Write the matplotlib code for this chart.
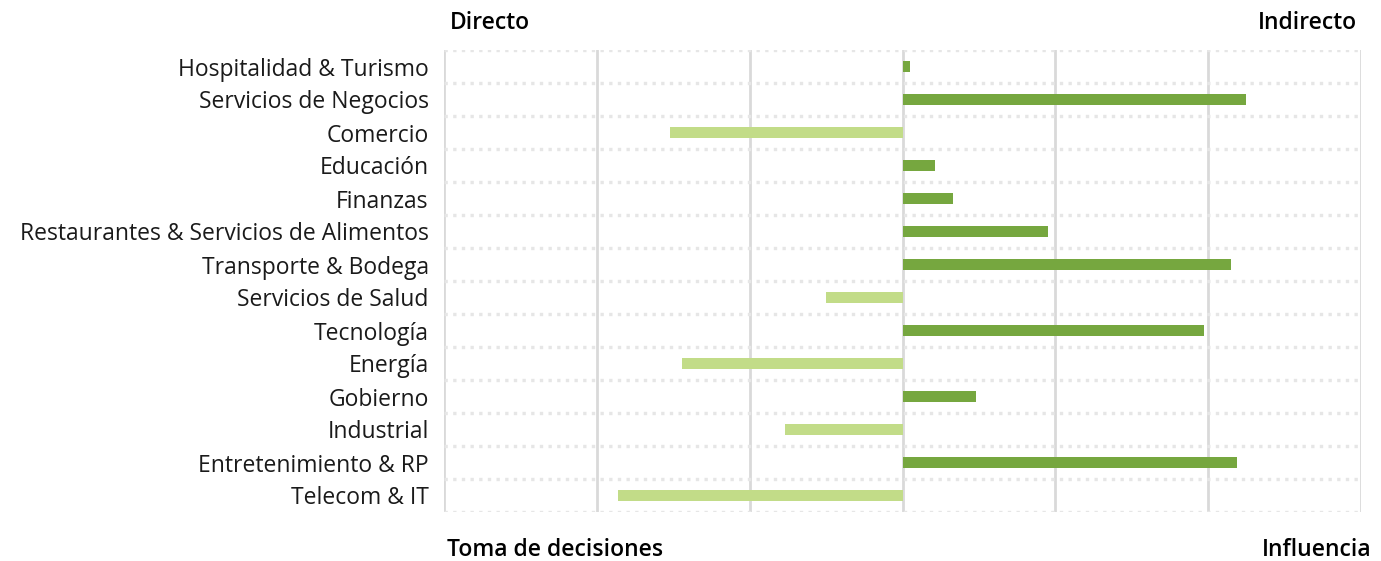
import numpy as np
import matplotlib
matplotlib.use('Agg')
import matplotlib.pyplot as plt

plt.rcParams['font.family'] = ['Open Sans', 'DejaVu Sans']

sectores = ['Hospitalidad & Turismo', 'Servicios de Negocios', 'Comercio', 'Educación',
            'Finanzas', 'Restaurantes & Servicios de Alimentos', 'Transporte & Bodega',
            'Servicios de Salud', 'Tecnología', 'Energía', 'Gobierno', 'Industrial',
            'Entretenimiento & RP', 'Telecom & IT']
valores = [0.05, 2.25, -1.52, 0.21, 0.33, 0.95, 2.15, -0.50, 1.97, -1.44, 0.48, -0.77, 2.19, -1.86]

verde_oscuro = '#76A73F'
verde_claro = '#C2DC88'

fig = plt.figure(figsize=(13.81, 5.61), dpi=100)
ax = fig.add_axes([444 / 1381, 1 - 512 / 561, (1361 - 444) / 1381, (512 - 50) / 561])

y = np.arange(len(sectores))
colores = [verde_oscuro if v >= 0 else verde_claro for v in valores]
ax.barh(y, valores, height=0.36, color=colores, zorder=3)

ax.set_xlim(-3, 3)
ax.set_ylim(len(sectores) - 0.5, -0.5)

# lineas verticales solidas
for xv in range(-3, 4):
    ax.axvline(xv, color='#D9D9D9', lw=2, zorder=1)
# lineas horizontales punteadas
for yv in np.arange(-0.5, len(sectores) + 0.5, 1):
    ax.axhline(yv, color='#E6E6E6', lw=2.4, ls=(0, (1, 1.6)), zorder=1)

ax.set_yticks(y)
ax.set_yticklabels(sectores, fontsize=16.5, color='#1a1a1a')
ax.tick_params(axis='y', length=0, pad=11)
ax.set_xticks([])
for s in ax.spines.values():
    s.set_visible(False)

fig.text(450 / 1381, 1 - 23 / 561, 'Directo', fontsize=16.5, fontweight='semibold', va='center', ha='left')
fig.text(1357 / 1381, 1 - 23 / 561, 'Indirecto', fontsize=16.5, fontweight='semibold', va='center', ha='right')
fig.text(447 / 1381, 1 - 550 / 561, 'Toma de decisiones', fontsize=16.5, fontweight='semibold', va='center', ha='left')
fig.text(1371 / 1381, 1 - 550 / 561, 'Influencia', fontsize=16.5, fontweight='semibold', va='center', ha='right')

fig.savefig('out.png', dpi=100)
